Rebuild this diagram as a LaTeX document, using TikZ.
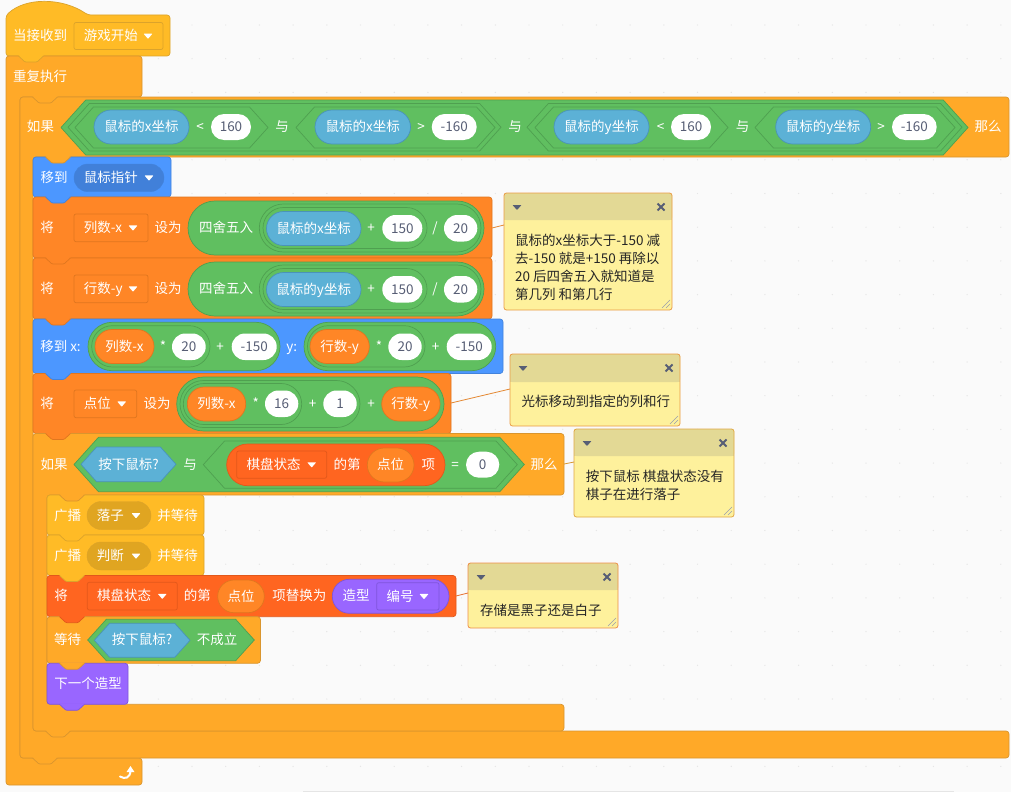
\documentclass[tikz,border=0pt]{standalone}
\usepackage{fontspec}
\setmainfont{Noto Sans CJK SC}
\usetikzlibrary{arrows,shapes.misc}

\definecolor{ctlc}{HTML}{FFA928}\definecolor{ctle}{HTML}{D9952E}
\definecolor{evtc}{HTML}{FFBB26}\definecolor{evte}{HTML}{DBA32B}
\definecolor{motc}{HTML}{4C97FF}\definecolor{mote}{HTML}{4283DC}
\definecolor{varc}{HTML}{FF8626}\definecolor{vare}{HTML}{E0761F}
\definecolor{lstc}{HTML}{FF6520}\definecolor{lste}{HTML}{E2581B}
\definecolor{lokc}{HTML}{9966FF}\definecolor{loke}{HTML}{7F55DB}
\definecolor{senc}{HTML}{5CB1D6}\definecolor{sene}{HTML}{4A93B8}
\definecolor{oprc}{HTML}{60BF60}\definecolor{opre}{HTML}{4FA050}

% block with square corners slightly rounded
\newcommand{\stk}[5]{\path[#1,rounded corners=3pt] (#2,#3) rectangle (#4,#5);}
% tab that hangs under a block
\newcommand{\tabb}[3]{%
  \path[#1,draw=none,rounded corners=1pt] (#2+12.5,#3-1) -- (#2+12.5,#3) -- (#2+19,#3+6) -- (#2+31,#3+6) -- (#2+37.5,#3) -- (#2+37.5,#3-1) -- cycle;
  \path[#1,fill=none,rounded corners=1pt] (#2+12.5,#3) -- (#2+19,#3+6) -- (#2+31,#3+6) -- (#2+37.5,#3);}
% c block: style, x, top, arm x, header bottom, header right, band top, band right, bottom
\newcommand{\cblk}[9]{\path[#1,rounded corners=3pt] (#2,#3) -- (#6,#3) -- (#6,#5) -- (#4,#5) -- (#4,#7) -- (#8,#7) -- (#8,#9) -- (#2,#9) -- cycle;}
% pill given by its edges
\newcommand{\pil}[7]{\node[#1,minimum width={#4-#3},minimum height={#6-#5}] (#2) at ({(#3+#4)/2},{(#5+#6)/2}) {#7};}
% dropdown: pill, label, triangle
\newcommand{\drp}[7]{\pil{#1}{#2}{#3}{#4}{#5}{#6}{}
  \node[lbl,anchor=west] (#2t) at (#3+9.7,{(#5+#6)/2}) {#7};
  \fill[white,rounded corners=.6pt] (#4-19.5,{(#5+#6)/2-2.4}) -- (#4-10.5,{(#5+#6)/2-2.4}) -- (#4-15,{(#5+#6)/2+2.9}) -- cycle;}
% hexagon: style, left tip, right tip, top, bottom
\newcommand{\hexa}[5]{\path[#1] (#2,{(#4+#5)/2}) -- ({#2+(#5-#4)*.45},#4) -- ({#3-(#5-#4)*.45},#4) -- (#3,{(#4+#5)/2}) -- ({#3-(#5-#4)*.45},#5) -- ({#2+(#5-#4)*.45},#5) -- cycle;}
% comment box: name, x1, y1, x2, y2, header bottom, edge colour
\newcommand{\notebox}[7]{%
  \path[fill=notebg,rounded corners=2.5pt] (#2,#3) rectangle (#4,#5);
  \path[fill=notehd,rounded corners=2.5pt] (#2,#3) -- (#4,#3) -- (#4,#6) -- (#2,#6) -- cycle;
  \fill[notehd] (#2,#6-3) rectangle (#4,#6);
  \node[inner sep=0pt,minimum size=0pt,draw=none] (#1) at (#2,#6+5) {};
  \draw[#7,line width=.8pt,rounded corners=2.5pt] (#2,#3) rectangle (#4,#5);
  \fill[gmk,rounded corners=.5pt] (#2+8.5,#3+12) -- (#2+17.5,#3+12) -- (#2+13,#3+17) -- cycle;
  \draw[gmk,line width=1.9pt] (#4-14.5,#3+10.5) -- (#4-7.5,#3+17.5) (#4-7.5,#3+10.5) -- (#4-14.5,#3+17.5);
  \draw[gmk!60,line width=.5pt] (#4-10,#5-2) -- (#4-2,#5-10) (#4-6,#5-2) -- (#4-2,#5-6);}

\definecolor{notebg}{HTML}{FEF19C}\definecolor{notehd}{HTML}{E3D995}
\definecolor{gmk}{HTML}{575E75}\definecolor{griddot}{HTML}{E6E6E6}

\begin{document}
\begin{tikzpicture}[x=1pt,y=-1pt]
    \tikzstyle{ctl}=[fill=ctlc, draw=ctle, line width=.7pt]
    \tikzstyle{evt}=[fill=evtc, draw=evte, line width=.7pt]
    \tikzstyle{mot}=[fill=motc, draw=mote, line width=.7pt]
    \tikzstyle{vari}=[fill=varc, draw=vare, line width=.7pt]
    \tikzstyle{lst}=[fill=lstc, draw=lste, line width=.7pt]
    \tikzstyle{lok}=[fill=lokc, draw=loke, line width=.7pt]
    \tikzstyle{opr}=[fill=oprc, draw=opre, line width=.7pt]
    \tikzstyle{sen}=[fill=senc, draw=sene, line width=.7pt]
    \tikzstyle{lbl}=[text=white, inner sep=0pt, text height=11pt, text depth=1.5pt, font=\fontsize{13.5}{13.5}\selectfont]
    \tikzstyle{rnd}=[rounded rectangle, inner sep=0pt, text=white, text height=11pt, text depth=1.5pt, font=\fontsize{13.5}{13.5}\selectfont]
    \tikzstyle{num}=[rnd, fill=white, draw=none, text=gmk]
    \tikzstyle{wrp}=[rnd, opr]
    \tikzstyle{snp}=[rnd, sen]
    \tikzstyle{vrp}=[rnd, vari]
    \tikzstyle{fldv}=[rectangle, rounded corners=2pt, inner sep=0pt, fill=varc, draw=vare, line width=.7pt]
    \tikzstyle{fldl}=[rectangle, rounded corners=2pt, inner sep=0pt, fill=lstc, draw=lste, line width=.7pt]
    \tikzstyle{notetxt}=[anchor=west, align=left, inner sep=0pt, text=black!85, font=\fontsize{13.5}{18}\selectfont]

    \useasboundingbox (0,0) rectangle (1011,792);
    \fill[black!2] (0,0) rectangle (1011,792);
    \foreach \i in {0,...,29} \foreach \j in {0,...,23}
        \fill[griddot] (23.5+33.7*\i,-8.7+33.7*\j) circle (.7);
    \fill[black!10] (303,790.6) rectangle (954,792);

    % hat and the three c blocks
    \path[evt,rounded corners=3pt] (6,56) -- (6,15.5) .. controls (25,-2.7) and (62,-2.7) .. (88,15) -- (170,15) -- (170,56) -- cycle;
    \cblk{ctl}{6}{56}{20}{97}{142}{758}{142}{785}
    \cblk{ctl}{20}{97}{33}{157}{1009}{731}{1009}{758}

    % stack of the outer if
    \stk{mot}{33}{157}{171}{197}
    \stk{vari}{33}{197}{492}{258}
    \stk{vari}{33}{258}{492}{319}
    \stk{mot}{33}{319}{503}{373.5}
    \stk{vari}{33}{373.5}{451}{433.5}
    \cblk{ctl}{33}{433.5}{47}{495}{564}{704.3}{564}{731}

    % stack of the inner if
    \stk{evt}{47}{495}{204}{535}
    \stk{evt}{47}{535}{204}{575.5}
    \stk{lst}{47}{575.5}{456}{616.7}
    \stk{ctl}{47}{616.7}{260.5}{663.3}
    \stk{lok}{47}{663.3}{128}{704.3}

    \tabb{evt}{6}{56}
    \tabb{ctl}{20}{97}
    \tabb{ctl}{33}{157}
    \tabb{mot}{33}{197}
    \tabb{vari}{33}{258}
    \tabb{vari}{33}{319}
    \tabb{mot}{33}{373.5}
    \tabb{vari}{33}{433.5}
    \tabb{ctl}{47}{495}
    \tabb{evt}{47}{535}
    \tabb{evt}{47}{575.5}
    \tabb{lst}{47}{616.7}
    \tabb{ctl}{47}{663.3}
    \tabb{lok}{47}{704.3}
    \tabb{ctl}{33}{731}
    \tabb{ctl}{20}{758}

    % hat
    \node[lbl] (hatl) at (40,36) {当接收到};
    \drp{rectangle,rounded corners=2pt,inner sep=0pt,fill=evtc,draw=evte,line width=.7pt}{hatf}{74}{163}{22.5}{49.5}{游戏开始}
    \node[lbl] (fvl) at (40,77) {重复执行};
    \draw[white,line width=2pt,line cap=round] (120,776.5) .. controls (125,779.5) and (130,778) .. (130.5,771);
    \fill[white] (126.5,772) -- (130.5,766) -- (134.5,772) -- cycle;

    % first condition
    \node[lbl] (ifa) at (40.5,127) {如果};
    \hexa{opr}{61}{968}{100}{155}
    \hexa{opr}{68}{501}{103.5}{151}
    \hexa{opr}{527}{962}{103.5}{151}
    \hexa{opr}{75}{268}{107}{148}
    \hexa{opr}{296}{495}{107}{148}
    \hexa{opr}{535}{728}{107}{148}
    \hexa{opr}{755}{955}{107}{148}
    \pil{snp}{mxa}{94}{189}{110}{144}{鼠标的x坐标}
    \node[lbl] (lta) at (200,127) {<};
    \pil{num}{va}{211}{251}{114}{140}{160}
    \node[lbl] (anda) at (282,127) {与};
    \pil{snp}{mxb}{315}{410.5}{110}{144}{鼠标的x坐标}
    \node[lbl] (gta) at (421,127) {>};
    \pil{num}{vb}{431.7}{476.7}{114}{140}{-160}
    \node[lbl] (andb) at (515,127) {与};
    \pil{snp}{mya}{554}{649}{110}{144}{鼠标的y坐标}
    \node[lbl] (ltb) at (660.7,127) {<};
    \pil{num}{vc}{671}{711}{114}{140}{160}
    \node[lbl] (andc) at (742.7,127) {与};
    \pil{snp}{myb}{775.7}{870.7}{110}{144}{鼠标的y坐标}
    \node[lbl] (gtb) at (881,127) {>};
    \pil{num}{vd}{892}{936.7}{114}{140}{-160}
    \node[lbl] (thena) at (988,127) {那么};

    % go to pointer
    \node[lbl] (mvl) at (54,178) {移到};
    \drp{rnd,fill=motc!85!black,draw=mote}{mvf}{74}{164}{164}{191.7}{鼠标指针}

    % set column
    \node[lbl] (seta) at (47,228) {将};
    \drp{fldv}{colf}{74}{148}{214}{241.7}{列数-x}
    \node[lbl] (toa) at (168,228) {设为};
    \pil{wrp}{rda}{188}{484}{201}{255}{}
    \node[lbl] (rdal) at (226,228) {四舍五入};
    \pil{wrp}{rdb}{259.3}{481}{204}{252}{}
    \pil{wrp}{rdc}{263}{427}{207.5}{248.5}{}
    \pil{snp}{mxc}{266.5}{361}{211.5}{245.5}{鼠标的x坐标}
    \node[lbl] (pla) at (371,228) {+};
    \pil{num}{ve}{382.3}{422.3}{215}{241.5}{150}
    \node[lbl] (dva) at (435,228) {/};
    \pil{num}{vf}{444}{477.3}{215}{241.5}{20}

    % set row
    \node[lbl] (setb) at (47,289) {将};
    \drp{fldv}{rowf}{74}{148}{275}{302.7}{行数-y}
    \node[lbl] (tob) at (168,289) {设为};
    \pil{wrp}{rde}{188}{484}{262}{316}{}
    \node[lbl] (rdel) at (226,289) {四舍五入};
    \pil{wrp}{rdf}{259.3}{481}{265}{313}{}
    \pil{wrp}{rdg}{263}{427}{268.5}{309.5}{}
    \pil{snp}{myc}{266.5}{361}{272.5}{306.5}{鼠标的y坐标}
    \node[lbl] (plb) at (371,289) {+};
    \pil{num}{vg}{382.3}{422.3}{276}{302.5}{150}
    \node[lbl] (dvb) at (435,289) {/};
    \pil{num}{vh}{444}{477.3}{276}{302.5}{20}

    % go to x y
    \node[lbl] (gxl) at (60.5,346.5) {移到 x:};
    \pil{wrp}{gxa}{88}{280}{322.3}{370.7}{}
    \pil{wrp}{gxb}{91.7}{210}{325.7}{367}{}
    \pil{vrp}{gxc}{95}{154}{329.5}{363.5}{列数-x}
    \node[lbl] (mla) at (163,346.5) {*};
    \pil{num}{vi}{172}{205.7}{333.5}{360}{20}
    \node[lbl] (plc) at (220,346.5) {+};
    \pil{num}{vj}{231.7}{276.7}{333.5}{360}{-150}
    \node[lbl] (gyl) at (291.7,346.5) {y:};
    \pil{wrp}{gya}{304}{495.7}{322.3}{370.7}{}
    \pil{wrp}{gyb}{307.5}{425}{325.7}{367}{}
    \pil{vrp}{gyc}{310}{369.3}{329.5}{363.5}{行数-y}
    \node[lbl] (mlb) at (379,346.5) {*};
    \pil{num}{vk}{388.3}{421.7}{333.5}{360}{20}
    \node[lbl] (pld) at (435.7,346.5) {+};
    \pil{num}{vl}{446.7}{491.7}{333.5}{360}{-150}

    % set position
    \node[lbl] (setc) at (47,404) {将};
    \drp{fldv}{posf}{74}{136.7}{390}{417.7}{点位}
    \node[lbl] (toc) at (157,404) {设为};
    \pil{wrp}{psa}{176.7}{444}{377}{431}{}
    \pil{wrp}{psb}{180}{360}{380.5}{427.5}{}
    \pil{wrp}{psc}{183.3}{301.7}{383.5}{424.5}{}
    \pil{vrp}{psd}{187.3}{245.7}{387}{421}{列数-x}
    \node[lbl] (mlc) at (255.7,404) {*};
    \pil{num}{vm}{265}{298.3}{390.5}{417}{16}
    \node[lbl] (ple) at (312.7,404) {+};
    \pil{num}{vn}{323.3}{356.7}{390.5}{417}{1}
    \node[lbl] (plf) at (371,404) {+};
    \pil{vrp}{pse}{381.7}{440}{387}{421}{行数-y}

    % second condition
    \node[lbl] (ifb) at (54,464.5) {如果};
    \hexa{opr}{74}{524.3}{437.3}{491.7}
    \hexa{sen}{81}{176}{447}{481.7}
    \node[lbl] (prsa) at (128.5,464.5) {按下鼠标?};
    \node[lbl] (andd) at (190,464.5) {与};
    \hexa{opr}{203.3}{517.3}{441}{488.3}
    \pil{rnd,lst}{itm}{226.7}{445}{444}{485.7}{}
    \drp{fldl}{brdf}{236.7}{326.7}{451}{478.3}{棋盘状态}
    \node[lbl] (ofa) at (347,464.5) {的第};
    \pil{vrp}{ida}{367.3}{414}{448}{482}{点位}
    \node[lbl] (xma) at (428.3,464.5) {项};
    \node[lbl] (eqa) at (455,464.5) {=};
    \pil{num}{vo}{466}{499.3}{451.7}{477.7}{0}
    \node[lbl] (thenb) at (544,464.5) {那么};

    % broadcasts
    \node[lbl] (bca) at (67.5,515.5) {广播};
    \drp{rnd,fill=evtc!88!black,draw=evte}{bcaf}{87}{151}{501.5}{529.5}{落子}
    \node[lbl] (bcaw) at (177.5,515.5) {并等待};
    \node[lbl] (bcb) at (67.5,556) {广播};
    \drp{rnd,fill=evtc!88!black,draw=evte}{bcbf}{87}{151}{542}{570}{判断}
    \node[lbl] (bcbw) at (177.5,556) {并等待};

    % replace item
    \node[lbl] (repa) at (61,596) {将};
    \drp{fldl}{repf}{87.3}{177.3}{582.3}{610}{棋盘状态}
    \node[lbl] (ofb) at (197.3,596) {的第};
    \pil{vrp}{idb}{217.7}{264.3}{580}{612.7}{点位}
    \node[lbl] (repb) at (299.3,596) {项替换为};
    \pil{rnd,lok}{cst}{332.3}{449}{579.3}{613.3}{}
    \node[lbl] (cstl) at (356,596) {造型};
    \drp{rectangle,rounded corners=2pt,fill=lokc,draw=loke,line width=.7pt}{cstf}{376.7}{439}{582.7}{610}{编号}

    % wait
    \node[lbl] (wtl) at (67.5,640) {等待};
    \hexa{opr}{87.7}{254.3}{619.3}{660.7}
    \hexa{sen}{94.3}{190}{623.3}{657.3}
    \node[lbl] (prsb) at (142,640) {按下鼠标?};
    \node[lbl] (notl) at (217,640) {不成立};

    % next costume
    \node[lbl] (nxt) at (88,684) {下一个造型};

    % comments
    \coordinate (ca) at (492,228);
    \coordinate (cb) at (451,403);
    \coordinate (cc) at (564,464);
    \coordinate (cd) at (456,596);
    \notebox{na}{504}{193}{672}{310}{220}{vare!70!notebg}
    \notebox{nb}{510}{354}{680}{426}{382}{vare!70!notebg}
    \notebox{nc}{574}{429}{734}{517}{456}{ctle!80!notebg}
    \notebox{nd}{468}{563}{618}{628}{590}{lste!65!notebg}
    \coordinate (nae) at (504,225);
    \coordinate (nbe) at (510,389);
    \coordinate (nce) at (574,462);
    \coordinate (nde) at (468,593);
    \draw[vare!85!notebg,line width=.8pt] (ca) -- (nae);
    \draw[vare!85!notebg,line width=.8pt] (cb) -- (nbe);
    \draw[ctle,line width=.8pt] (cc) -- (nce);
    \draw[lste!85!notebg,line width=.8pt] (cd) -- (nde);
    \node[notetxt] (nat) at (515,267) {鼠标的x坐标大于-150 减\\去-150 就是+150 再除以\\20 后四舍五入就知道是\\第几列 和第几行};
    \node[notetxt] (nbt) at (521.5,401.5) {光标移动到指定的列和行};
    \node[notetxt] (nct) at (585.7,485) {按下鼠标 棋盘状态没有\\棋子在进行落子};
    \node[notetxt] (ndt) at (480,610) {存储是黑子还是白子};
\end{tikzpicture}
\end{document}
